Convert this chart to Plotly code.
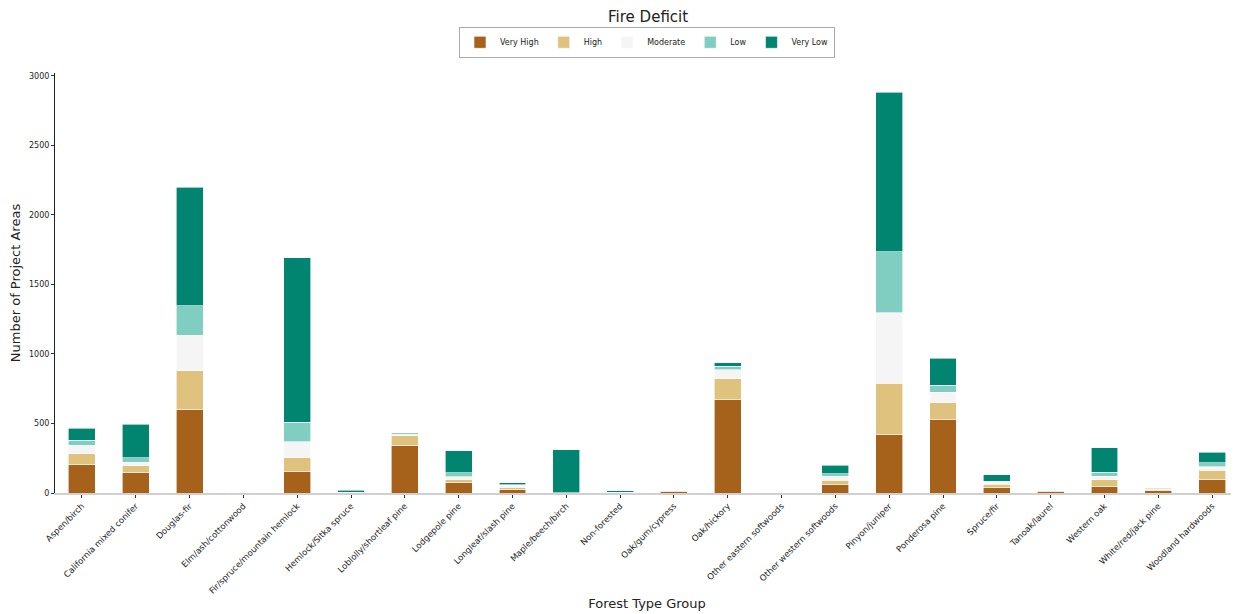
import plotly.graph_objects as go

categories = ["Aspen/birch", "California mixed conifer", "Douglas-fir", "Elm/ash/cottonwood",
              "Fir/spruce/mountain hemlock", "Hemlock/Sitka spruce", "Loblolly/shortleaf pine",
              "Lodgepole pine", "Longleaf/slash pine", "Maple/beech/birch", "Non-forested",
              "Oak/gum/cypress", "Oak/hickory", "Other eastern softwoods", "Other western softwoods",
              "Pinyon/juniper", "Ponderosa pine", "Spruce/fir", "Tanoak/laurel", "Western oak",
              "White/red/jack pine", "Woodland hardwoods"]

very_high = [205, 150, 598, 0, 152, 2, 345, 76, 26, 0, 1, 12, 670, 0, 62, 421, 528, 38, 12, 50, 17, 100]
high      = [78, 45, 281, 0, 100, 1, 67, 24, 17, 0, 1, 3, 150, 0, 31, 367, 120, 24, 7, 45, 10, 62]
moderate  = [60, 26, 257, 1, 115, 1, 5, 17, 12, 1, 1, 1, 65, 0, 28, 507, 76, 14, 2, 26, 3, 28]
low       = [36, 34, 212, 6, 143, 3, 4, 28, 5, 2, 2, 0, 25, 0, 17, 441, 50, 10, 5, 29, 2, 29]
very_low  = [85, 240, 850, 1, 1181, 14, 7, 160, 15, 309, 10, 0, 25, 0, 62, 1147, 195, 45, 2, 174, 1, 74]

series_names = ["Very High", "High", "Moderate", "Low", "Very Low"]
series_values = [very_high, high, moderate, low, very_low]
colors = ["#a6611a", "#dfc27d", "#f5f5f5", "#80cdc1", "#018571"]

FONT = "DejaVu Sans"

fig = go.Figure()
for name, vals, col in zip(series_names, series_values, colors):
    fig.add_trace(go.Bar(
        x=categories, y=vals, name=name,
        marker=dict(color=col, line=dict(color="white", width=0.6)),
        width=0.5,
    ))

fig.update_layout(
    barmode="stack",
    width=1231, height=606,
    margin=dict(l=47, r=0, t=65, b=121, autoexpand=False),
    paper_bgcolor="white", plot_bgcolor="white",
    font=dict(family=FONT, color="#222222", size=8),
    title=dict(text="Fire Deficit", x=0.52, xanchor="center", y=0.995, yanchor="top",
               font=dict(family=FONT, size=15, color="#222222")),
    legend=dict(orientation="h", x=0.5, xanchor="center", y=1.11, yanchor="top",
                bordercolor="#aaaaaa", borderwidth=1, bgcolor="white",
                font=dict(family=FONT, size=8, color="#222222"),
                itemwidth=30, traceorder="normal",
                tracegroupgap=0),
    showlegend=True,
)

fig.update_xaxes(
    type="category", range=[-0.5, 21.5], automargin=False,
    tickangle=-45, tickfont=dict(family=FONT, size=8.5, color="#222222"),
    showline=True, linecolor="#d0d0d0", linewidth=1.5,
    ticks="outside", ticklen=3, tickcolor="#333333",
    showgrid=False, zeroline=False,
    title=dict(text="Forest Type Group", font=dict(family=FONT, size=13, color="#222222"), standoff=4),
)
fig.update_yaxes(
    range=[0, 3020], tickvals=[0, 500, 1000, 1500, 2000, 2500, 3000], automargin=False,
    tickfont=dict(family=FONT, size=8, color="#222222"),
    showline=True, linecolor="#222222", linewidth=1,
    ticks="outside", ticklen=3, tickcolor="#333333",
    showgrid=False, zeroline=False,
    title=dict(text="Number of Project Areas", font=dict(family=FONT, size=13, color="#222222"), standoff=12),
)

fig.write_html("out.html")
